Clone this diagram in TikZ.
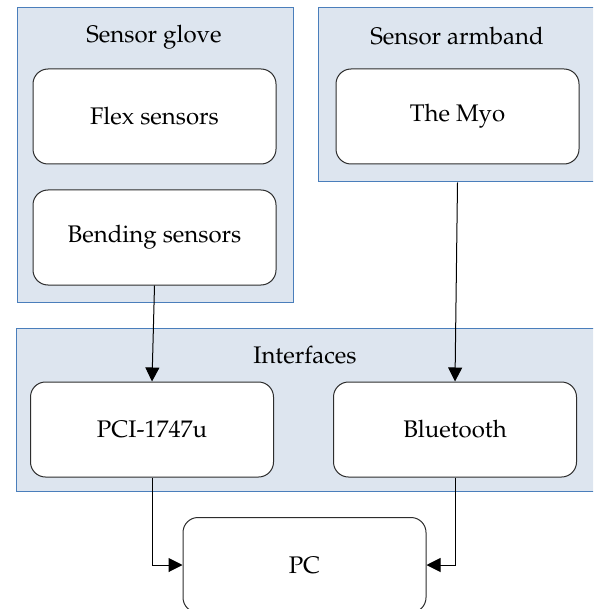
\documentclass[tikz,border=0pt]{standalone}
\usepackage[T1]{fontenc}
\usepackage{mathpazo}
\usetikzlibrary{arrows.meta}
\definecolor{groupfill}{RGB}{221,229,239}
\definecolor{groupline}{RGB}{74,126,187}
\definecolor{unitline}{RGB}{45,45,45}

\begin{document}
\begin{tikzpicture}[x=.5pt,y=-.5pt,font=\fontsize{12}{14}\selectfont,
  group/.style={draw=groupline,fill=groupfill,line width=.5pt,inner sep=0pt},
  unit/.style={draw=unitline,fill=white,rounded corners=7.5pt,line width=.5pt,
    minimum width=121.5pt,minimum height=47.5pt,inner sep=0pt},
  link/.style={-{Triangle[length=7pt,width=7pt]},line width=.5pt}]
  \useasboundingbox (0,0) rectangle (593,609);
  \clip (0,0) rectangle (593,609);
  % groups
  \node[group,minimum width=138pt,minimum height=147pt] (glove) at (155,155) {};
  \node[group,minimum width=139pt,minimum height=87pt] (armband) at (457,95) {};
  \node[group,minimum width=290pt,minimum height=81.5pt] (interfaces) at (306,409.5) {};
  \node (glovetitle) at (154,37) {Sensor glove};
  \node (armbandtitle) at (457,36) {Sensor armband};
  \node (interfacestitle) at (305,355) {Interfaces};
  % units
  \node[unit] (flex) at (154.5,116.5) {Flex sensors};
  \node[unit] (bending) at (154.5,237.5) {Bending sensors};
  \node[unit] (myo) at (457.5,116.5) {The Myo};
  \node[unit] (pci) at (152,429.5) {PCI-1747u};
  \node[unit] (bt) at (455,429.5) {Bluetooth};
  \node[unit] (pc) at (304.5,565) {PC};
  % links
  \draw[link] (bending.south) -- (pci.north);
  \draw[link] (armband.south -| myo) -- (bt.north);
  \draw[link] (pci.south) |- (pc.west);
  \draw[link] (bt.south) |- (pc.east);
\end{tikzpicture}
\end{document}
